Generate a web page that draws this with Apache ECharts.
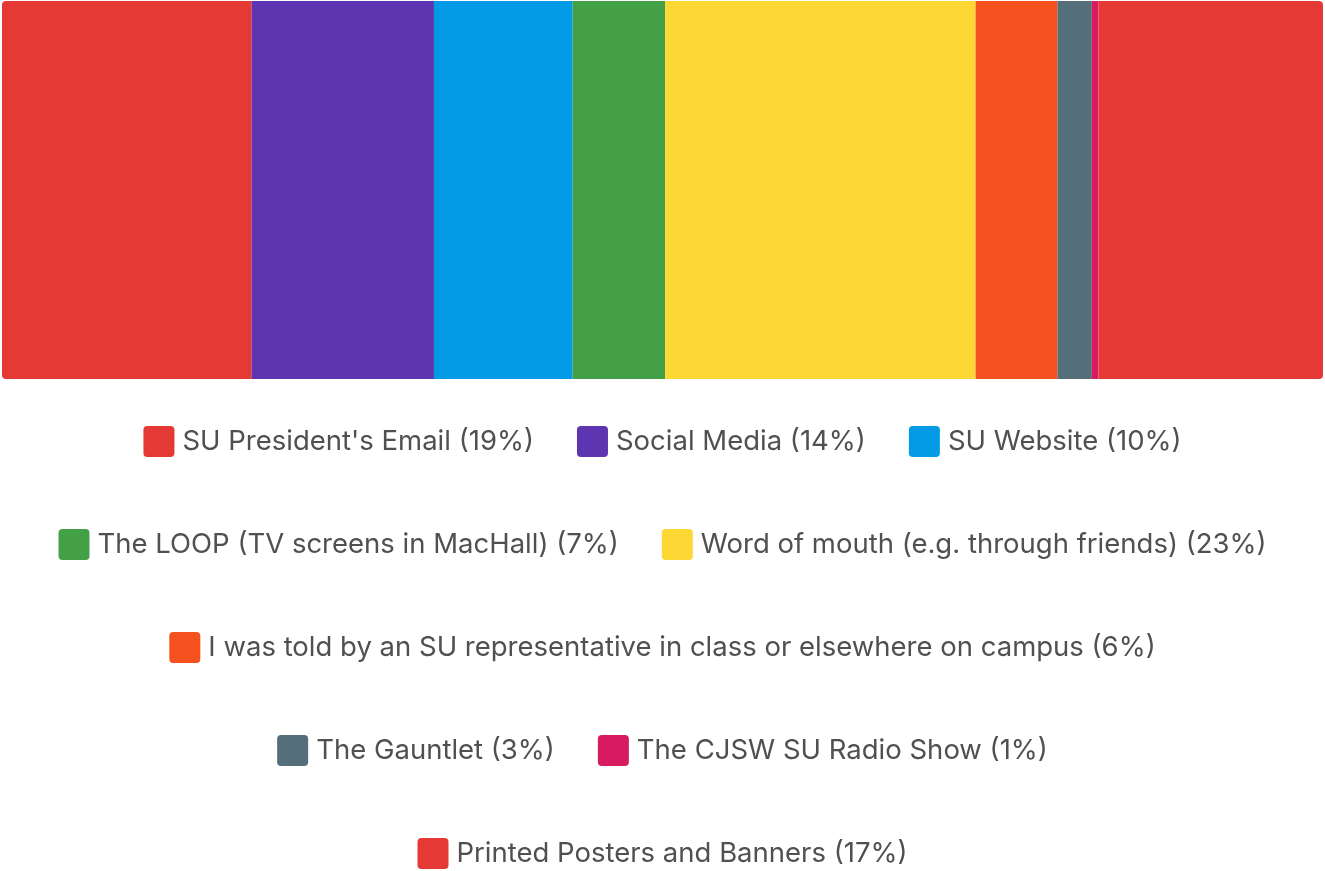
<!DOCTYPE html>
<html>
<head>
<meta charset="utf-8">
<script src="https://cdn.jsdelivr.net/npm/echarts@6/dist/echarts.min.js"></script>
<style>
  html, body { margin: 0; padding: 0; background: #fff; }
  #chart { width: 1325px; height: 871px; }
</style>
</head>
<body>
<div id="chart"></div>
<script>
// answer categories, share of responses (%) and the rounded legend labels
const categories = [
    "SU President's Email",
    'Social Media',
    'SU Website',
    'The LOOP (TV screens in MacHall)',
    'Word of mouth (e.g. through friends)',
    'I was told by an SU representative in class or elsewhere on campus',
    'The Gauntlet',
    'The CJSW SU Radio Show',
    'Printed Posters and Banners'
];
const values = [18.9, 13.8, 10.5, 7.0, 23.5, 6.2, 2.6, 0.5, 17.0];
const pctLabels = ['19%', '14%', '10%', '7%', '23%', '6%', '3%', '1%', '17%'];
const colors = ['#e53935', '#5e35b1', '#039be5', '#43a047', '#fdd835', '#f4511e', '#546e7a', '#d81b60', '#e53935'];

// which categories go on each legend line
const legendRows = [[0, 1, 2], [3, 4], [5], [6, 7], [8]];
const rowCenters = [441, 544, 647, 750, 853];

const total = values.reduce((a, b) => a + b, 0);
const chart = echarts.init(document.getElementById('chart'));

const series = categories.map((name, i) => ({
    name: name,
    type: 'bar',
    stack: 'all',
    barWidth: '100%',
    data: [values[i]],
    itemStyle: {
        color: colors[i],
        borderRadius: i === 0 ? [4, 0, 0, 4] : (i === categories.length - 1 ? [0, 4, 4, 0] : 0)
    },
    emphasis: { disabled: true },
    silent: true
}));

const legends = legendRows.map((row, r) => ({
    data: row.map(i => ({ name: categories[i], itemStyle: { color: colors[i] } })),
    top: rowCenters[r] - 15,
    left: 'center',
    orient: 'horizontal',
    padding: 0,
    itemWidth: 31,
    itemHeight: 31,
    itemGap: 43,
    icon: 'path://M4,0 H27 Q31,0 31,4 V27 Q31,31 27,31 H4 Q0,31 0,27 V4 Q0,0 4,0 Z',
    selectedMode: false,
    formatter: name => name + ' (' + pctLabels[categories.indexOf(name)] + ')',
    textStyle: {
        fontFamily: 'Inter',
        fontSize: 27.5,
        color: '#505050',
        padding: [0, 0, 0, 3]
    }
}));

chart.setOption({
    animation: false,
    grid: { left: 2, right: 2, top: 1, height: 378, containLabel: false },
    xAxis: {
        type: 'value',
        min: 0,
        max: total,
        show: false
    },
    yAxis: {
        type: 'category',
        data: ['All'],
        show: false
    },
    legend: legends,
    series: series
});
</script>
</body>
</html>
